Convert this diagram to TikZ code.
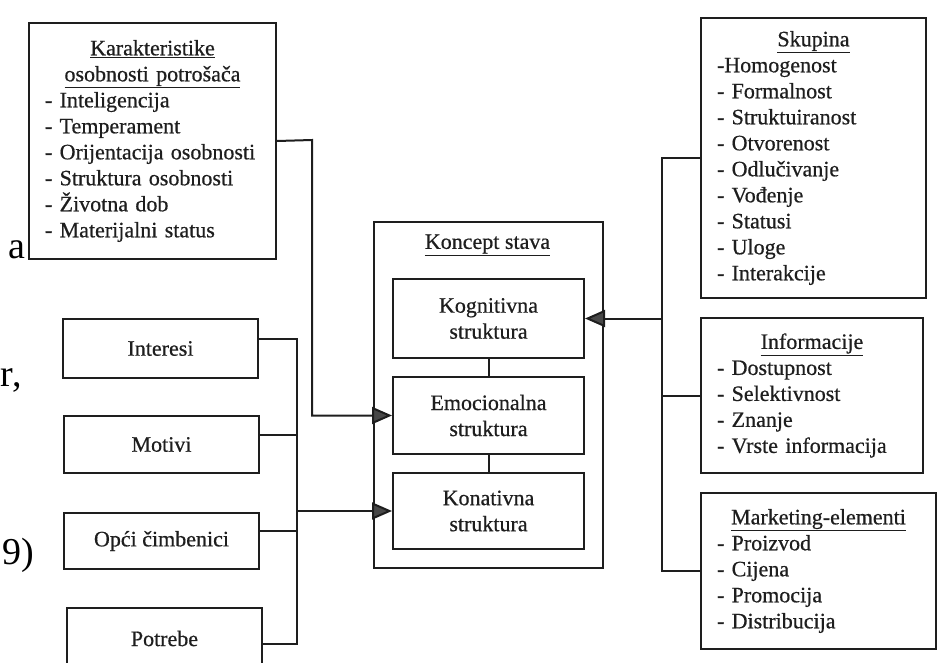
\documentclass[tikz,border=0pt]{standalone}
\usepackage{fontspec}
\setmainfont{Liberation Serif}[FakeBold=0.6]
\newfontfamily\pagefont{Liberation Serif}
\usetikzlibrary{arrows.meta}

\definecolor{inkgray}{HTML}{1E1E1E}
\definecolor{tipgray}{HTML}{484848}

% centred, underlined headline of a list box
\newcommand{\heading}[1]{{\centering #1\par}\raggedright}

\tikzset{
	frame/.style={draw=inkgray, line width=2pt, rectangle, inner sep=0pt, anchor=north west},
	listbox/.style={frame, inner xsep=16pt, inner ysep=0pt},
	plainbox/.style={frame, minimum width=195pt, align=center},
	structbox/.style={frame, minimum width=191pt, align=center},
	fragment/.style={anchor=west, inner sep=0pt, text=black, font=\pagefont\fontsize{38}{40}\selectfont},
	arr/.style={-{Triangle[length=20pt,width=17pt,fill=tipgray]}}
}

\begin{document}
\begin{tikzpicture}[x=1pt, y=-1pt, line width=2pt, draw=inkgray, text=inkgray,
	font=\fontsize{22}{26}\selectfont]
	\useasboundingbox (0,0) rectangle (937,662);
	\clip (0,0) rectangle (937,662);
	
	% bits of the page text beside the figure
	\node[fragment] (fraga) at (8,250) {a};
	\node[fragment] (fragr) at (0,380) {r,};
	\node[fragment] (fragn) at (1,555) {9)};
	
	% left side
	\node[listbox, text width=215pt, minimum height=236pt] (karak) at (28,22)
	{\heading{\underline{Karakteristike}\\\underline{osobnosti potrošača}}
		- Inteligencija\\
		- Temperament\\
		- Orijentacija osobnosti\\
		- Struktura osobnosti\\
		- Životna dob\\
		- Materijalni status};
	
	\node[plainbox, minimum height=59pt] (interesi) at (62,318) {Interesi};
	\node[plainbox, minimum height=57pt] (motivi) at (63,415) {Motivi};
	\node[plainbox, minimum height=56pt] (opci) at (63,512) {Opći čimbenici};
	\node[plainbox, minimum height=61pt] (potrebe) at (66,607) {Potrebe};
	
	% attitude
	\node[frame, minimum width=229pt, minimum height=346pt] (koncept) at (373,221) {};
	\node (kstitle) at (487.5,245) {\underline{Koncept stava}};
	\node[structbox, minimum height=79pt] (kog) at (392,278) {Kognitivna\\struktura};
	\node[structbox, minimum height=77pt] (emo) at (392,376) {Emocionalna\\struktura};
	\node[structbox, minimum height=76pt] (kon) at (392,472) {Konativna\\struktura};
	
	% right side
	\node[listbox, text width=193pt, minimum height=280pt] (skupina) at (700,17)
	{\heading{\underline{Skupina}}
		-Homogenost\\
		- Formalnost\\
		- Struktuiranost\\
		- Otvorenost\\
		- Odlučivanje\\
		- Vođenje\\
		- Statusi\\
		- Uloge\\
		- Interakcije};
	\node[listbox, text width=190pt, minimum height=155pt] (info) at (700,317)
	{\heading{\underline{Informacije}}
		- Dostupnost\\
		- Selektivnost\\
		- Znanje\\
		- Vrste informacija};
	\node[listbox, text width=203pt, minimum height=156pt] (marketing) at (700,492)
	{\heading{\underline{Marketing-elementi}}
		- Proizvod\\
		- Cijena\\
		- Promocija\\
		- Distribucija};
	
	\draw (kog) -- (emo);
	\draw (emo) -- (kon);
	
	\coordinate (kjoin) at (312,140);
	\draw[arr] (karak.east) -- (kjoin) |- (emo.west);
	
	\coordinate (lbus) at (297,0);
	\coordinate (iconn) at ([yshift=10pt]interesi.east);
	\coordinate (mconn) at ([yshift=10pt]motivi.east);
	\coordinate (oconn) at ([yshift=10pt]opci.east);
	\coordinate (pconn) at ([yshift=-5pt]potrebe.east);
	\draw (iconn) -| (lbus |- pconn) -- (pconn);
	\draw (mconn) -- (lbus |- mconn);
	\draw (oconn) -- (lbus |- oconn);
	\draw[arr] (lbus |- kon.west) -- (kon.west);
	
	\coordinate (rbus) at (662,0);
	\draw (skupina.west) -| (rbus |- marketing.west) -- (marketing.west);
	\draw (info.west) -- (rbus |- info.west);
	\draw[arr] (rbus |- kog.east) -- (kog.east);
	
\end{tikzpicture}
\end{document}
